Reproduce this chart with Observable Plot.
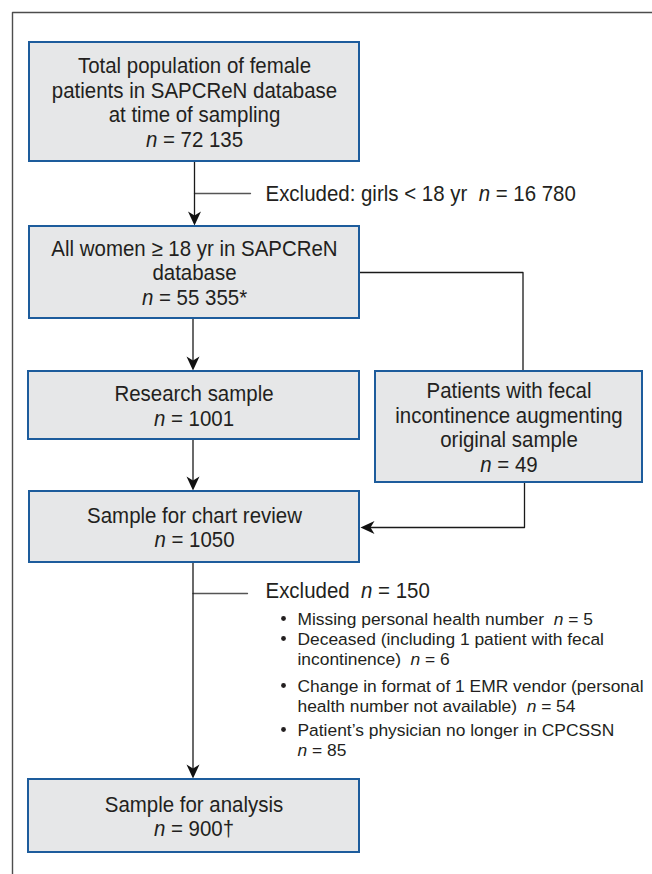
<!DOCTYPE html>
<html>
<head>
<meta charset="utf-8">
<script src="https://cdn.jsdelivr.net/npm/d3@7"></script>
<script src="https://cdn.jsdelivr.net/npm/@observablehq/plot@0.6"></script>
<style>
  html, body { margin: 0; padding: 0; background: #ffffff; }
  #chart svg { display: block; }
  #chart svg text { white-space: pre; }
</style>
</head>
<body>
<div id="chart"></div>
<script>
// ---------- DATA ----------
const boxTitles = [
  "Total population of female\npatients in SAPCReN database\nat time of sampling",
  "All women ≥ 18 yr in SAPCReN\ndatabase",
  "Research sample",
  "Patients with fecal\nincontinence augmenting\noriginal sample",
  "Sample for chart review",
  "Sample for analysis"
];
const boxCounts = ["72 135", "55 355*", "1001", "49", "1050", "900†"];

const exclusionLabels = ["Excluded: girls < 18 yr", "Excluded"];
const exclusionCounts = ["16 780", "150"];

const reasonLabels = [
  "Missing personal health number",
  "Deceased (including 1 patient with fecal\nincontinence)",
  "Change in format of 1 EMR vendor (personal\nhealth number not available)",
  "Patient’s physician no longer in CPCSSN\n"
];
const reasonCounts = ["5", "6", "54", "85"];

// ---------- LAYOUT (page coordinates) ----------
const W = 652, H = 874;
const boxLayout = [
  {x1: 29, x2: 359, y1: 42,  y2: 161},
  {x1: 29, x2: 359, y1: 226, y2: 318},
  {x1: 28, x2: 359, y1: 371, y2: 439},
  {x1: 375, x2: 642, y1: 371, y2: 482},
  {x1: 29, x2: 359, y1: 491, y2: 562},
  {x1: 28, x2: 359, y1: 779, y2: 852}
];
const connectorPaths = [
  [[194, 161], [194, 220]],
  [[359, 272], [522.5, 272], [522.5, 371]],
  [[192.5, 318], [192.5, 365]],
  [[192.5, 439], [192.5, 485]],
  [[524, 482], [524, 527], [365, 527]],
  [[192.5, 562], [192.5, 773]]
];
const exclusionLinePaths = [
  [[194, 193], [250, 193]],
  [[192.5, 593], [247, 593]]
];
const framePath = [[12, H], [12, 12], [W, 12]];
const arrowDownTips = [[194, 225], [192.5, 370], [192.5, 490], [192.5, 778]];
const arrowLeftTips = [[360, 527]];
const exclusionPos = [[265, 193], [265, 590]];
const reasonFirstLineY = [618, 638, 685, 729];
const reasonTextX = 297, reasonBulletX = 283;

// ---------- STYLE ----------
const FONT = "'Liberation Sans', Arial, Helvetica, sans-serif";
const TXT = "#231f20";
const BIG = 22, BIG_SCALE_X = 0.93, SMALL = 17.4;

// ---------- BUILD ----------
const boxes = boxLayout.map((b, i) => ({
  ...b,
  cx: (b.x1 + b.x2) / 2,
  cy: (b.y1 + b.y2) / 2,
  text: boxTitles[i] + "\nn = " + boxCounts[i]
}));
const toLine = (paths) => paths.flatMap((p, id) => p.map(([x, y]) => ({id, x, y})));
const exclusions = exclusionLabels.map((l, i) => ({
  x: exclusionPos[i][0], y: exclusionPos[i][1],
  text: l + "  n = " + exclusionCounts[i]
}));
const reasons = reasonLabels.map((l, i) => {
  const text = l + (l.endsWith("\n") ? "" : "  ") + "n = " + reasonCounts[i];
  const lines = text.split("\n").length;
  return {
    y0: reasonFirstLineY[i],
    y: reasonFirstLineY[i] + (lines - 1) * 20 / 2,
    text
  };
});

const arrowDown = {
  draw(ctx) {
    ctx.moveTo(0, 0); ctx.lineTo(-6.5, -14); ctx.lineTo(0, -10); ctx.lineTo(6.5, -14); ctx.closePath();
  }
};
const arrowLeft = {
  draw(ctx) {
    ctx.moveTo(0, 0); ctx.lineTo(14, -6.5); ctx.lineTo(10, 0); ctx.lineTo(14, 6.5); ctx.closePath();
  }
};

const chart = Plot.plot({
  width: W,
  height: H,
  margin: 0,
  x: {domain: [0, W], range: [0, W], axis: null},
  y: {domain: [0, H], range: [0, H], axis: null},
  style: {background: "#ffffff", fontFamily: FONT},
  marks: [
    Plot.line(framePath, {x: d => d[0], y: d => d[1], stroke: "#4d4d4d", strokeWidth: 1.4}),
    Plot.line(toLine(exclusionLinePaths), {x: "x", y: "y", z: "id", stroke: "#555555", strokeWidth: 1.3}),
    Plot.line(toLine(connectorPaths), {x: "x", y: "y", z: "id", stroke: "#1a1a1a", strokeWidth: 1.3}),
    Plot.dot(arrowDownTips, {x: d => d[0], y: d => d[1], r: 5, symbol: arrowDown, fill: "#111111", stroke: "none"}),
    Plot.dot(arrowLeftTips, {x: d => d[0], y: d => d[1], r: 5, symbol: arrowLeft, fill: "#111111", stroke: "none"}),
    Plot.rect(boxes, {x1: "x1", x2: "x2", y1: "y1", y2: "y2", fill: "#e6e7e8", stroke: "#1d5c9c", strokeWidth: 2}),
    Plot.text(boxes, {x: "cx", y: "cy", text: "text", fontSize: BIG, lineHeight: 24.5 / BIG, fill: TXT, fontFamily: FONT}),
    Plot.text(exclusions, {x: "x", y: "y", text: "text", fontSize: BIG, textAnchor: "start", fill: TXT, fontFamily: FONT}),
    Plot.dot(reasons, {x: () => reasonBulletX, y: "y0", r: 2.4, fill: TXT, stroke: "none"}),
    Plot.text(reasons, {x: () => reasonTextX, y: "y", text: "text", fontSize: SMALL, lineHeight: 20 / SMALL, textAnchor: "start", fill: TXT, fontFamily: FONT})
  ]
});

// slightly condensed look for the large labels
chart.querySelectorAll("g").forEach(g => {
  if (g.getAttribute("font-size") !== String(BIG)) return;
  g.querySelectorAll(":scope > text").forEach(t => {
    const tr = t.getAttribute("transform");
    if (tr) {
      t.setAttribute("transform", tr + ` scale(${BIG_SCALE_X},1)`);
    } else {
      const x = +t.getAttribute("x") || 0, y = +t.getAttribute("y") || 0;
      t.removeAttribute("x"); t.removeAttribute("y");
      t.querySelectorAll("tspan[x]").forEach(s => s.setAttribute("x", 0));
      t.setAttribute("transform", `translate(${x},${y}) scale(${BIG_SCALE_X},1)`);
    }
  });
});

// italic "n" in the counts
(function italicizeN(svg) {
  const walker = document.createTreeWalker(svg, NodeFilter.SHOW_TEXT);
  const nodes = [];
  while (walker.nextNode()) nodes.push(walker.currentNode);
  for (const node of nodes) {
    const s = node.nodeValue;
    const re = /(^|\s)n(?=\s=)/g;
    if (!re.test(s)) continue;
    re.lastIndex = 0;
    const frag = document.createDocumentFragment();
    let last = 0, m;
    while ((m = re.exec(s))) {
      const i = m.index + m[1].length;
      frag.append(s.slice(last, i));
      const t = document.createElementNS("http://www.w3.org/2000/svg", "tspan");
      t.setAttribute("font-style", "italic");
      t.textContent = "n";
      frag.append(t);
      last = i + 1;
    }
    frag.append(s.slice(last));
    node.replaceWith(frag);
  }
})(chart);

document.getElementById("chart").append(chart);
</script>
</body>
</html>
